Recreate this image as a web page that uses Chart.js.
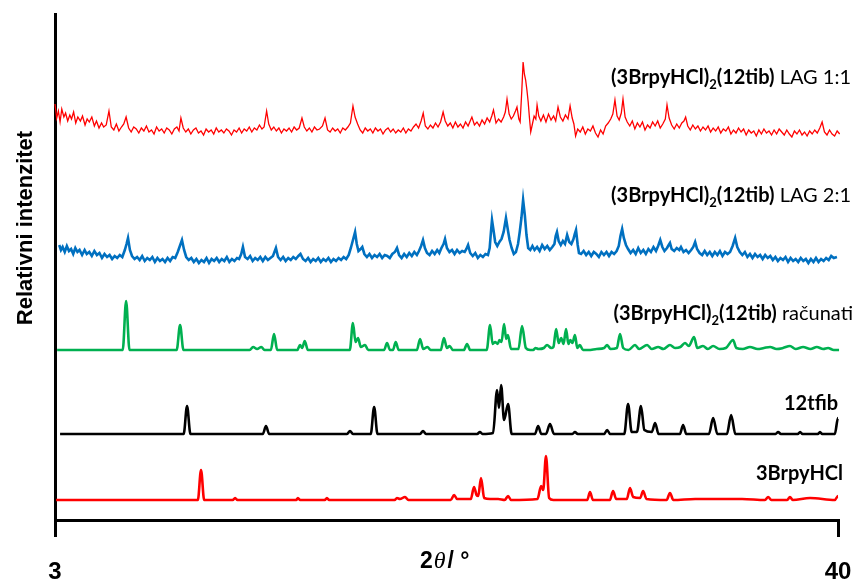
<!DOCTYPE html>
<html>
<head>
<meta charset="utf-8">
<script src="https://cdn.jsdelivr.net/npm/chart.js@4.4.0/dist/chart.umd.min.js"></script>
<style>
  body { margin: 0; background: #fff; }
</style>
</head>
<body>
<canvas id="xrd" width="855" height="582"></canvas>
<script>
// x axis: 2theta range and the two labelled ticks
const xTicks = [3, 40];

// each trace is [2theta, relative intensity incl. stacking offset]
const lag11 = [
  [3.0,416],[3.08,402],[3.16,409],[3.24,398],[3.32,411],[3.42,403],[3.5,407],[3.6,399],[3.7,405],[3.78,401],[3.88,408],[3.98,397],
  [4.08,403],[4.2,399],[4.3,404],[4.42,395],[4.52,401],[4.62,398],[4.74,403],[4.86,394],[4.96,399],
  [5.08,392],[5.2,397],[5.3,393],[5.42,395],[5.55,409],[5.66,393],[5.78,390],[5.9,396],[6.02,389],[6.14,393],[6.25,396],[6.36,403],
  [6.48,392],[6.6,388],[6.72,393],[6.84,391],[6.96,387],[7.08,392],[7.2,389],[7.32,394],[7.44,388],[7.56,390],[7.68,386],[7.8,393],
  [7.92,389],[8.04,391],[8.16,387],[8.28,392],[8.4,390],[8.52,386],[8.64,391],[8.76,393],[8.86,389],[8.95,402],[9.06,392],[9.18,388],
  [9.3,391],[9.42,386],[9.54,390],[9.66,392],[9.78,387],[9.9,389],[10.02,385],[10.14,391],[10.26,388],[10.38,390],[10.5,386],[10.62,392],
  [10.74,388],[10.86,390],[10.98,387],[11.1,391],[11.22,389],[11.34,385],[11.46,390],[11.58,388],[11.7,392],[11.82,387],[11.94,391],
  [12.06,389],[12.18,393],[12.3,388],[12.42,392],[12.54,390],[12.66,395],[12.78,391],[12.88,393],[13.0,409],[13.1,396],[13.22,390],
  [13.34,393],[13.46,389],[13.58,392],[13.7,387],[13.82,391],[13.94,389],[14.06,392],[14.18,388],[14.3,393],[14.42,390],[14.54,392],
  [14.67,402],[14.78,393],[14.9,389],[15.02,392],[15.14,388],[15.26,393],[15.38,390],[15.5,391],[15.64,394],[15.76,402],[15.88,390],
  [16.0,388],[16.12,392],[16.24,389],[16.36,391],[16.48,387],[16.6,392],[16.72,390],[16.84,393],[16.96,397],[17.08,414],[17.18,403],
  [17.3,396],[17.42,390],[17.54,387],[17.66,392],[17.78,389],[17.9,391],[18.02,387],[18.14,392],[18.26,389],[18.38,391],[18.5,386],
  [18.62,390],[18.74,392],[18.86,388],[18.98,391],[19.1,387],[19.22,390],[19.34,388],[19.46,392],[19.58,387],[19.7,391],[19.82,389],
  [19.94,393],[20.06,396],[20.18,392],[20.3,399],[20.4,407],[20.5,394],[20.62,391],[20.74,395],[20.86,392],[20.98,397],[21.1,393],
  [21.22,398],[21.34,408],[21.44,399],[21.56,394],[21.68,397],[21.8,392],[21.92,398],[22.04,393],[22.16,396],[22.28,392],[22.4,398],
  [22.52,394],[22.62,399],[22.7,403],[22.82,395],[22.94,398],[23.06,394],[23.18,400],[23.3,396],[23.42,402],[23.54,398],[23.64,404],
  [23.72,410],[23.84,397],[23.96,401],[24.08,398],[24.2,403],[24.28,408],[24.36,421],[24.46,406],[24.56,401],[24.66,404],[24.76,409],
  [24.83,413],[24.92,401],[24.98,398],[25.06,430],[25.12,458],[25.18,446],[25.24,440],[25.3,430],[25.36,418],[25.42,402],[25.48,388],
  [25.56,396],[25.64,404],[25.72,401],[25.78,415],[25.86,404],[25.96,399],[26.08,405],[26.2,398],[26.32,406],[26.44,400],[26.56,404],
  [26.66,399],[26.77,413],[26.88,403],[27.0,399],[27.12,405],[27.24,401],[27.34,414],[27.44,402],[27.52,396],[27.6,384],[27.7,391],
  [27.82,388],[27.94,393],[28.06,386],[28.18,391],[28.3,389],[28.42,394],[28.54,387],[28.66,383],[28.78,390],[28.9,386],[29.02,394],
  [29.14,397],[29.26,401],[29.36,406],[29.46,420],[29.56,404],[29.66,400],[29.76,407],[29.84,421],[29.94,403],[30.04,398],[30.16,394],
  [30.28,399],[30.4,391],[30.52,397],[30.64,393],[30.76,398],[30.88,390],[31.0,395],[31.12,392],[31.24,398],[31.36,394],[31.48,399],
  [31.6,392],[31.72,396],[31.84,401],[31.92,415],[32.02,402],[32.14,395],[32.26,391],[32.38,396],[32.5,392],[32.62,397],[32.72,399],
  [32.8,403],[32.9,394],[33.02,390],[33.14,395],[33.26,391],[33.38,394],[33.5,389],[33.62,393],[33.74,390],[33.86,394],[33.98,388],
  [34.1,392],[34.22,389],[34.34,393],[34.46,387],[34.58,391],[34.7,389],[34.82,393],[34.94,386],[35.06,390],[35.18,387],[35.3,392],
  [35.42,388],[35.54,391],[35.66,385],[35.78,390],[35.9,387],[36.02,389],[36.14,384],[36.26,390],[36.38,386],[36.5,391],[36.62,387],
  [36.74,389],[36.86,385],[36.98,390],[37.1,386],[37.22,391],[37.34,388],[37.46,385],[37.58,390],[37.7,386],[37.82,383],[37.94,389],
  [38.06,386],[38.18,390],[38.3,385],[38.42,388],[38.54,384],[38.66,389],[38.78,386],[38.9,390],[39.02,387],[39.14,392],[39.25,398],
  [39.36,388],[39.48,385],[39.6,390],[39.72,386],[39.84,384],[39.96,389],[40.08,386],[40.2,385]
];

const lag21 = [
  [3.2,275],[3.28,270],[3.36,273],[3.46,268],[3.56,274],[3.66,269],[3.76,271],[3.86,266],[3.96,272],[4.06,268],[4.16,270],[4.28,265],
  [4.4,270],[4.5,266],[4.62,268],[4.74,264],[4.86,269],[4.98,265],[5.1,267],[5.22,262],[5.34,266],[5.46,263],[5.58,265],[5.7,261],
  [5.82,264],[5.94,262],[6.06,265],[6.18,263],[6.3,270],[6.38,276],[6.45,282],[6.54,270],[6.64,264],[6.76,261],[6.88,263],[7.0,260],
  [7.12,264],[7.24,259],[7.36,262],[7.48,260],[7.6,263],[7.72,258],[7.84,262],[7.96,259],[8.08,261],[8.2,258],[8.32,262],[8.44,259],
  [8.56,263],[8.68,262],[8.8,268],[8.9,274],[9.0,280],[9.1,270],[9.2,263],[9.32,260],[9.44,262],[9.56,258],[9.68,261],[9.8,257],
  [9.92,260],[10.04,258],[10.16,262],[10.28,257],[10.4,261],[10.52,259],[10.64,262],[10.76,258],[10.88,261],[11.0,259],[11.12,263],
  [11.24,258],[11.36,261],[11.48,259],[11.6,262],[11.7,261],[11.8,266],[11.88,273],[11.98,263],[12.1,261],[12.22,264],[12.34,259],
  [12.46,262],[12.58,260],[12.7,263],[12.82,259],[12.94,263],[13.06,260],[13.18,262],[13.3,264],[13.44,272],[13.54,263],[13.66,260],
  [13.78,263],[13.9,259],[14.02,262],[14.14,260],[14.26,263],[14.38,261],[14.5,264],[14.6,266],[14.72,261],[14.84,259],[14.96,262],
  [15.08,258],[15.2,261],[15.32,259],[15.44,262],[15.56,258],[15.68,261],[15.8,259],[15.92,262],[16.04,258],[16.16,261],[16.28,259],
  [16.4,262],[16.52,260],[16.64,263],[16.76,261],[16.88,265],[16.98,272],[17.08,280],[17.18,288],[17.26,276],[17.34,269],[17.44,271],
  [17.52,273],[17.62,266],[17.74,263],[17.86,266],[17.98,262],[18.1,265],[18.22,263],[18.34,266],[18.46,262],[18.58,265],[18.7,264],
  [18.82,262],[18.94,266],[19.06,268],[19.16,272],[19.26,265],[19.38,262],[19.5,266],[19.62,263],[19.74,267],[19.86,264],[19.98,268],
  [20.1,265],[20.2,269],[20.3,274],[20.39,280],[20.48,272],[20.58,267],[20.7,265],[20.82,269],[20.94,266],[21.06,270],[21.16,267],
  [21.26,272],[21.36,276],[21.43,281],[21.52,272],[21.64,268],[21.76,270],[21.88,266],[22.0,270],[22.12,267],[22.24,269],[22.36,268],
  [22.44,271],[22.52,275],[22.62,267],[22.74,264],[22.86,267],[22.98,262],[23.1,265],[23.22,263],[23.34,266],[23.46,265],[23.54,272],
  [23.6,288],[23.65,300],[23.72,290],[23.8,278],[23.9,274],[24.0,278],[24.1,281],[24.2,288],[24.31,302],[24.4,290],[24.48,280],
  [24.58,272],[24.68,266],[24.78,268],[24.88,276],[24.96,288],[25.04,302],[25.12,320],[25.2,305],[25.28,285],[25.36,272],[25.46,270],
  [25.56,274],[25.66,270],[25.78,273],[25.9,269],[26.02,275],[26.14,271],[26.26,274],[26.38,270],[26.5,273],[26.6,276],[26.66,284],
  [26.72,288],[26.8,279],[26.9,275],[27.0,279],[27.1,276],[27.2,285],[27.3,278],[27.4,276],[27.5,281],[27.56,286],[27.62,290],
  [27.7,275],[27.76,267],[27.86,266],[27.98,269],[28.1,265],[28.22,268],[28.34,264],[28.46,268],[28.58,266],[28.7,263],[28.82,268],
  [28.94,265],[29.06,268],[29.18,264],[29.3,268],[29.42,266],[29.54,269],[29.64,274],[29.72,284],[29.8,291],[29.88,282],[29.98,275],
  [30.08,271],[30.2,267],[30.32,270],[30.44,266],[30.56,272],[30.68,267],[30.8,270],[30.92,266],[31.04,271],[31.16,268],[31.28,273],
  [31.4,269],[31.5,274],[31.6,280],[31.7,273],[31.8,269],[31.92,272],[32.0,275],[32.06,277],[32.14,271],[32.26,269],[32.38,272],
  [32.5,270],[32.58,273],[32.7,268],[32.82,270],[32.94,267],[33.06,270],[33.16,273],[33.25,278],[33.34,271],[33.46,267],[33.58,265],
  [33.7,269],[33.82,265],[33.94,268],[34.06,264],[34.18,268],[34.3,265],[34.42,269],[34.54,264],[34.66,268],[34.78,266],[34.9,268],
  [35.02,274],[35.14,282],[35.24,273],[35.36,268],[35.48,265],[35.6,268],[35.72,263],[35.84,266],[35.96,262],[36.08,266],[36.2,263],
  [36.32,265],[36.44,261],[36.56,265],[36.68,262],[36.8,264],[36.92,260],[37.04,263],[37.16,259],[37.28,262],[37.4,260],[37.52,263],
  [37.64,258],[37.76,262],[37.88,259],[38.0,261],[38.12,258],[38.24,262],[38.36,259],[38.48,261],[38.6,257],[38.72,261],[38.84,258],
  [38.96,262],[39.08,258],[39.2,261],[39.32,259],[39.44,262],[39.56,260],[39.68,264],[39.8,262],[39.95,263]
];

const calc = [
  [3.1,170],[6.2,170],[6.36,219],[6.52,170],[8.75,170],[8.91,195],[9.07,170],[12.2,170],[12.36,173],[12.55,171],
  [12.75,173],[12.9,170],[13.2,170],[13.35,186],[13.5,170],[14.45,170],[14.58,175],[14.68,172],[14.8,179],[14.95,170],
  [16.93,170],[17.08,197],[17.2,178],[17.32,182],[17.45,173],[17.65,175],[17.8,170],[18.55,170],[18.69,177],[18.83,170],
  [18.97,170],[19.1,178],[19.24,170],[20.1,170],[20.25,181],[20.4,171],[20.6,173],[20.75,170],[21.23,170],[21.38,182],
  [21.52,172],[21.65,174],[21.8,170],[22.32,170],[22.47,176],[22.62,170],[23.4,170],[23.56,195],[23.68,176],[23.8,178],
  [23.92,176],[24.0,180],[24.1,178],[24.22,196],[24.32,181],[24.4,185],[24.55,171],[24.9,171],[25.07,194],[25.25,172],
  [25.45,170],[25.6,170],[25.7,172],[25.85,171],[26.1,172],[26.25,175],[26.45,172],[26.55,173],[26.68,191],[26.8,177],
  [26.92,182],[27.03,176],[27.15,191],[27.26,176],[27.35,180],[27.45,177],[27.57,185],[27.68,172],[27.8,175],[27.95,170],
  [28.2,170],[28.6,171],[28.95,172],[29.09,175],[29.25,171],[29.55,172],[29.7,186],[29.85,172],[30.1,170],[30.41,175],
  [30.6,171],[30.98,175],[31.2,171],[31.5,173],[31.75,171],[32.06,175],[32.3,172],[32.55,173],[32.77,177],[32.95,174],
  [33.2,183],[33.35,172],[33.62,174],[33.85,171],[34.1,174],[34.4,171],[34.7,172],[35.04,180],[35.2,172],[35.5,171],
  [35.84,173],[36.2,171],[36.5,172],[36.79,173],[37.1,171],[37.4,172],[37.73,174],[38.0,171],[38.35,173],[38.7,171],
  [39.0,173],[39.3,171],[39.53,172],[39.8,170],[40.05,170]
];

const tfib = [
  [3.24,86],[9.08,86],[9.24,114],[9.4,86],[12.82,86],[12.97,94],[13.12,86],[16.8,86],[16.94,89],[17.08,86],
  [17.92,86],[18.08,113],[18.24,86],[20.25,86],[20.39,89],[20.53,86],[22.95,86],[23.08,88],[23.2,86],[23.7,87],
  [23.89,130],[23.98,112],[24.08,135],[24.22,100],[24.41,116],[24.58,86],[25.68,86],[25.83,94],[25.98,86],[26.2,86],
  [26.39,96],[26.58,86],[27.45,86],[27.57,88],[27.7,86],[28.95,86],[29.09,90],[29.23,86],[29.9,86],[30.08,116],
  [30.25,88],[30.5,88],[30.69,114],[30.85,90],[31.2,88],[31.36,97],[31.52,86],[32.53,86],[32.68,95],[32.83,86],
  [33.9,86],[34.1,102],[34.3,86],[34.75,86],[34.95,105],[35.15,86],[37.05,86],[37.17,88],[37.3,86],[38.1,86],
  [38.21,88],[38.32,86],[39.05,86],[39.15,88],[39.25,86],[39.85,86],[40.0,102],[40.15,86],[40.3,86]
];

const brpy = [
  [3.05,20],[9.75,20],[9.9,50],[10.05,20],[11.4,20],[11.51,22],[11.62,20],[14.4,20],[14.48,22],[14.58,20],
  [15.75,20],[15.85,22],[15.95,20],[19.05,20],[19.16,22],[19.3,21],[19.54,23],[19.7,20],[21.7,20],[21.86,25],
  [22.0,21],[22.65,21],[22.8,33],[22.92,25],[23.0,24],[23.13,42],[23.28,22],[23.56,21],[23.94,21],[24.25,20],
  [24.41,24],[24.55,20],[25.8,21],[25.97,34],[26.07,30],[26.2,64],[26.35,22],[26.55,20],[28.15,20],[28.28,28],
  [28.42,20],[29.22,20],[29.37,29],[29.52,21],[30.02,21],[30.17,32],[30.32,23],[30.65,22],[30.79,29],[30.95,21],
  [31.9,20],[32.06,27],[32.22,20],[33.25,21],[35.47,21],[36.55,20],[36.7,23],[36.85,20],[37.6,20],[37.73,23],
  [37.86,20],[38.68,22],[39.85,20],[40.0,24],[40.2,21]
];

// label text, top to bottom: [text, style] parts
const traceLabels = [
  [['(3BrpyHCl)', 'b'], ['2', 'sub'], ['(12tib)', 'b'], [' LAG 1:1', 'r']],
  [['(3BrpyHCl)', 'b'], ['2', 'sub'], ['(12tib)', 'b'], [' LAG 2:1', 'r']],
  [['(3BrpyHCl)', 'b'], ['2', 'sub'], ['(12tib)', 'b'], [' računati', 'r']],
  [['12tfib', 'b']],
  [['3BrpyHCl', 'b']]
];

const labelFonts = {
  b: 'bold 20px Lato',
  r: '20px Lato',
  sub: 'bold 13px Lato'
};
// right edge and baseline of each label on the canvas
const labelAnchors = [[851, 84], [851, 202], [853, 320], [838, 410], [843, 480]];

const labelPlugin = {
  id: 'traceLabels',
  afterDraw(chart) {
    const ctx = chart.ctx;
    ctx.save();
    ctx.fillStyle = '#000';
    ctx.textBaseline = 'alphabetic';
    ctx.textAlign = 'left';

    traceLabels.forEach((parts, i) => {
      let w = 0;
      parts.forEach(p => { ctx.font = labelFonts[p[1]]; w += ctx.measureText(p[0]).width; });
      let x = labelAnchors[i][0] - w;
      const y = labelAnchors[i][1];
      parts.forEach(p => {
        ctx.font = labelFonts[p[1]];
        ctx.fillText(p[0], x, p[1] === 'sub' ? y + 5 : y);
        x += ctx.measureText(p[0]).width;
      });
    });

    // y axis title
    ctx.save();
    ctx.translate(32, 228);
    ctx.rotate(-Math.PI / 2);
    ctx.textAlign = 'center';
    ctx.font = 'bold 22px "Liberation Sans"';
    ctx.fillText('Relativni intenzitet', 0, 0);
    ctx.restore();

    // x axis title: 2θ / °
    let x = 420;
    ctx.font = 'bold 23px "Liberation Sans"';
    ctx.fillText('2', x, 568);
    x += ctx.measureText('2').width + 1;
    ctx.font = 'italic 24px "Liberation Serif"';
    ctx.fillText('θ', x, 568);
    x += ctx.measureText('θ').width + 2;
    ctx.font = 'bold 23px "Liberation Sans"';
    ctx.fillText('/ °', x, 568);
    ctx.restore();
  }
};

const trace = (pts, color, width, smooth) => ({
  data: pts.map(p => ({ x: p[0], y: p[1] })),
  borderColor: color,
  borderWidth: width,
  pointRadius: 0,
  tension: 0,
  cubicInterpolationMode: smooth ? 'monotone' : 'default',
  fill: false,
  clip: false
});

new Chart(document.getElementById('xrd'), {
  type: 'line',
  data: {
    datasets: [
      trace(lag11, '#ff0000', 1.3, false),
      trace(lag21, '#0070c0', 2.6, false),
      trace(calc, '#00b050', 2.6, true),
      trace(tfib, '#000000', 2.6, true),
      trace(brpy, '#ff0000', 2.6, true)
    ]
  },
  options: {
    responsive: false,
    animation: false,
    layout: { padding: { top: 14, right: 17, left: 0, bottom: 0 } },
    plugins: { legend: { display: false }, tooltip: { enabled: false } },
    scales: {
      x: {
        type: 'linear',
        min: 3,
        max: 40,
        afterFit: s => { s.height = 62; s.paddingLeft = 0; s.paddingRight = 0; },
        afterBuildTicks: s => { s.ticks = xTicks.map(v => ({ value: v })); },
        ticks: {
          color: '#000',
          font: { family: '"Liberation Sans"', size: 24, weight: 'bold' },
          padding: 21,
          maxRotation: 0,
          autoSkip: false
        },
        grid: {
          drawOnChartArea: false,
          drawTicks: true,
          tickLength: 17,
          tickWidth: 3,
          tickColor: '#000',
          color: '#000',
          lineWidth: 3
        },
        border: { display: true, color: '#000', width: 3 }
      },
      y: {
        min: 0,
        max: 506,
        afterFit: s => { s.width = 55; },
        ticks: { display: false },
        grid: { display: false },
        border: { display: true, color: '#000', width: 3 }
      }
    }
  },
  plugins: [labelPlugin]
});
</script>
</body>
</html>
